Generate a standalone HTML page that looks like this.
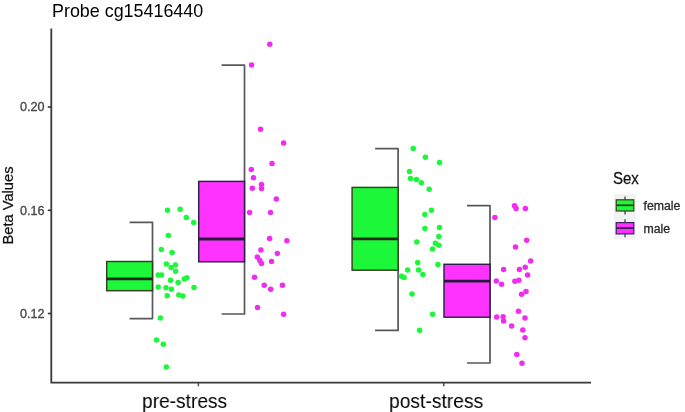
<!DOCTYPE html>
<html><head><meta charset="utf-8"><style>
html,body{margin:0;padding:0;background:#fff;}
body{width:685px;height:412px;overflow:hidden;position:relative;font-family:"Liberation Sans",sans-serif;}
.t{position:absolute;white-space:nowrap;line-height:1;will-change:transform;}
svg{will-change:transform;}
</style></head><body>
<svg width="685" height="412" viewBox="0 0 685 412" style="position:absolute;left:0;top:0">
<g font-family="Liberation Sans, sans-serif">
<text x="52" y="16.6" font-size="17.9" fill="#000">Probe cg15416440</text>
<text transform="translate(12.6,205.5) rotate(-90)" text-anchor="middle" font-size="14.7" fill="#111" stroke="#111" stroke-width="0.25">Beta Values</text>
<text x="44.4" y="111.3" text-anchor="end" font-size="12.6" fill="#484848" stroke="#484848" stroke-width="0.35">0.20</text>
<text x="44.4" y="214.7" text-anchor="end" font-size="12.6" fill="#484848" stroke="#484848" stroke-width="0.35">0.16</text>
<text x="44.4" y="317.9" text-anchor="end" font-size="12.6" fill="#484848" stroke="#484848" stroke-width="0.35">0.12</text>
<text transform="translate(613,184) scale(1,1.07)" font-size="15" fill="#111" stroke="#111" stroke-width="0.25">Sex</text>
<text x="643.5" y="209.7" font-size="12.3" fill="#2a2a2a" stroke="#2a2a2a" stroke-width="0.3">female</text>
<text x="643.5" y="232.5" font-size="12.3" fill="#2a2a2a" stroke="#2a2a2a" stroke-width="0.3">male</text>
</g>
<path d="M51.3,28.4 V382.7 H591" fill="none" stroke="#383838" stroke-width="1.8" stroke-linejoin="round"/>
<line x1="47.8" x2="51" y1="107.0" y2="107.0" stroke="#333" stroke-width="1.6"/>
<line x1="47.8" x2="51" y1="210.3" y2="210.3" stroke="#333" stroke-width="1.6"/>
<line x1="47.8" x2="51" y1="313.5" y2="313.5" stroke="#333" stroke-width="1.6"/>
<line x1="198.4" x2="198.4" y1="383" y2="386.3" stroke="#444" stroke-width="1.4"/>
<line x1="443.8" x2="443.8" y1="383" y2="386.3" stroke="#444" stroke-width="1.4"/>
<!-- legend -->
<rect x="614" y="194.2" width="21.7" height="45.3" fill="#f2f2f2"/>
<line x1="625" x2="625" y1="196.4" y2="214.6" stroke="#333" stroke-width="1.2"/>
<rect x="616.2" y="199.8" width="17.6" height="11.2" fill="#1cf73a" stroke="#3d3a22" stroke-width="1.2"/>
<line x1="616.2" x2="633.8" y1="205.3" y2="205.3" stroke="#2e2a1a" stroke-width="1.6"/>
<line x1="625" x2="625" y1="219.2" y2="237.3" stroke="#333" stroke-width="1.2"/>
<rect x="616.2" y="222.6" width="17.6" height="11.3" fill="#ff33ff" stroke="#3a2260" stroke-width="1.2"/>
<line x1="616.2" x2="633.8" y1="228.1" y2="228.1" stroke="#2c1c4a" stroke-width="1.6"/>
<path d="M129.6,222.3 H152.5 V318.6 H129.6" fill="none" stroke="#585858" stroke-width="1.7" stroke-linejoin="round" stroke-linecap="butt"/>
<rect x="106.7" y="261.5" width="45.8" height="29.2" fill="#1cf73a" stroke="#34401e" stroke-width="1.45"/>
<line x1="106.7" x2="152.5" y1="278.8" y2="278.8" stroke="#262a16" stroke-width="2.8"/>
<path d="M221.6,65.1 H244.5 V314.0 H221.6" fill="none" stroke="#585858" stroke-width="1.7" stroke-linejoin="round" stroke-linecap="butt"/>
<rect x="198.7" y="181.4" width="45.8" height="80.4" fill="#ff33ff" stroke="#2c1f48" stroke-width="1.45"/>
<line x1="198.7" x2="244.5" y1="239.0" y2="239.0" stroke="#241a3c" stroke-width="2.8"/>
<path d="M375.1,148.7 H398.1 V330.4 H375.1" fill="none" stroke="#585858" stroke-width="1.7" stroke-linejoin="round" stroke-linecap="butt"/>
<rect x="352.1" y="187.4" width="46.0" height="82.8" fill="#1cf73a" stroke="#34401e" stroke-width="1.45"/>
<line x1="352.1" x2="398.1" y1="238.9" y2="238.9" stroke="#262a16" stroke-width="2.8"/>
<path d="M467.0,205.6 H490.0 V363.0 H467.0" fill="none" stroke="#585858" stroke-width="1.7" stroke-linejoin="round" stroke-linecap="butt"/>
<rect x="444.0" y="264.3" width="46.0" height="52.9" fill="#ff33ff" stroke="#2c1f48" stroke-width="1.45"/>
<line x1="444.0" x2="490.0" y1="281.1" y2="281.1" stroke="#241a3c" stroke-width="2.8"/>
<circle cx="167.5" cy="210.2" r="2.75" fill="#1cf73a"/>
<circle cx="180.1" cy="209.3" r="2.75" fill="#1cf73a"/>
<circle cx="186.3" cy="217.4" r="2.75" fill="#1cf73a"/>
<circle cx="193.7" cy="222.5" r="2.75" fill="#1cf73a"/>
<circle cx="168.3" cy="235.6" r="2.75" fill="#1cf73a"/>
<circle cx="161.3" cy="249.5" r="2.75" fill="#1cf73a"/>
<circle cx="172.1" cy="252.6" r="2.75" fill="#1cf73a"/>
<circle cx="166.4" cy="264.1" r="2.75" fill="#1cf73a"/>
<circle cx="175.4" cy="265.0" r="2.75" fill="#1cf73a"/>
<circle cx="171.1" cy="267.5" r="2.75" fill="#1cf73a"/>
<circle cx="175.6" cy="271.3" r="2.75" fill="#1cf73a"/>
<circle cx="158.2" cy="275.1" r="2.75" fill="#1cf73a"/>
<circle cx="161.5" cy="275.1" r="2.75" fill="#1cf73a"/>
<circle cx="170.5" cy="280.3" r="2.75" fill="#1cf73a"/>
<circle cx="178.1" cy="282.4" r="2.75" fill="#1cf73a"/>
<circle cx="184.3" cy="278.9" r="2.75" fill="#1cf73a"/>
<circle cx="186.8" cy="277.7" r="2.75" fill="#1cf73a"/>
<circle cx="194.0" cy="287.5" r="2.75" fill="#1cf73a"/>
<circle cx="158.2" cy="287.1" r="2.75" fill="#1cf73a"/>
<circle cx="166.0" cy="287.7" r="2.75" fill="#1cf73a"/>
<circle cx="171.4" cy="289.2" r="2.75" fill="#1cf73a"/>
<circle cx="167.2" cy="295.8" r="2.75" fill="#1cf73a"/>
<circle cx="178.8" cy="295.1" r="2.75" fill="#1cf73a"/>
<circle cx="182.9" cy="296.0" r="2.75" fill="#1cf73a"/>
<circle cx="160.3" cy="318.0" r="2.75" fill="#1cf73a"/>
<circle cx="156.5" cy="340.1" r="2.75" fill="#1cf73a"/>
<circle cx="163.3" cy="344.2" r="2.75" fill="#1cf73a"/>
<circle cx="166.3" cy="367.1" r="2.75" fill="#1cf73a"/><circle cx="269.8" cy="44.2" r="2.75" fill="#f02cf0"/>
<circle cx="251.6" cy="65.1" r="2.75" fill="#f02cf0"/>
<circle cx="260.5" cy="129.3" r="2.75" fill="#f02cf0"/>
<circle cx="283.6" cy="143.0" r="2.75" fill="#f02cf0"/>
<circle cx="272.0" cy="163.6" r="2.75" fill="#f02cf0"/>
<circle cx="251.3" cy="169.5" r="2.75" fill="#f02cf0"/>
<circle cx="253.5" cy="177.7" r="2.75" fill="#f02cf0"/>
<circle cx="261.5" cy="184.4" r="2.75" fill="#f02cf0"/>
<circle cx="261.5" cy="188.6" r="2.75" fill="#f02cf0"/>
<circle cx="252.3" cy="188.3" r="2.75" fill="#f02cf0"/>
<circle cx="276.3" cy="199.0" r="2.75" fill="#f02cf0"/>
<circle cx="249.6" cy="212.5" r="2.75" fill="#f02cf0"/>
<circle cx="270.5" cy="212.5" r="2.75" fill="#f02cf0"/>
<circle cx="269.6" cy="238.5" r="2.75" fill="#f02cf0"/>
<circle cx="286.9" cy="240.7" r="2.75" fill="#f02cf0"/>
<circle cx="260.9" cy="250.1" r="2.75" fill="#f02cf0"/>
<circle cx="277.3" cy="253.4" r="2.75" fill="#f02cf0"/>
<circle cx="257.3" cy="257.0" r="2.75" fill="#f02cf0"/>
<circle cx="259.8" cy="260.5" r="2.75" fill="#f02cf0"/>
<circle cx="261.5" cy="263.5" r="2.75" fill="#f02cf0"/>
<circle cx="271.5" cy="261.4" r="2.75" fill="#f02cf0"/>
<circle cx="254.5" cy="277.2" r="2.75" fill="#f02cf0"/>
<circle cx="264.2" cy="285.2" r="2.75" fill="#f02cf0"/>
<circle cx="270.7" cy="289.2" r="2.75" fill="#f02cf0"/>
<circle cx="282.4" cy="285.2" r="2.75" fill="#f02cf0"/>
<circle cx="257.5" cy="307.5" r="2.75" fill="#f02cf0"/>
<circle cx="283.6" cy="314.3" r="2.75" fill="#f02cf0"/><circle cx="413.2" cy="148.5" r="2.75" fill="#1cf73a"/>
<circle cx="425.4" cy="157.3" r="2.75" fill="#1cf73a"/>
<circle cx="439.5" cy="162.5" r="2.75" fill="#1cf73a"/>
<circle cx="409.5" cy="171.6" r="2.75" fill="#1cf73a"/>
<circle cx="410.5" cy="178.4" r="2.75" fill="#1cf73a"/>
<circle cx="416.4" cy="179.4" r="2.75" fill="#1cf73a"/>
<circle cx="421.3" cy="182.8" r="2.75" fill="#1cf73a"/>
<circle cx="429.2" cy="189.2" r="2.75" fill="#1cf73a"/>
<circle cx="431.4" cy="210.2" r="2.75" fill="#1cf73a"/>
<circle cx="424.9" cy="214.5" r="2.75" fill="#1cf73a"/>
<circle cx="424.9" cy="228.5" r="2.75" fill="#1cf73a"/>
<circle cx="439.5" cy="227.5" r="2.75" fill="#1cf73a"/>
<circle cx="438.8" cy="236.4" r="2.75" fill="#1cf73a"/>
<circle cx="416.8" cy="242.0" r="2.75" fill="#1cf73a"/>
<circle cx="435.4" cy="243.3" r="2.75" fill="#1cf73a"/>
<circle cx="438.8" cy="245.3" r="2.75" fill="#1cf73a"/>
<circle cx="432.5" cy="249.1" r="2.75" fill="#1cf73a"/>
<circle cx="417.7" cy="262.4" r="2.75" fill="#1cf73a"/>
<circle cx="437.9" cy="264.6" r="2.75" fill="#1cf73a"/>
<circle cx="407.7" cy="270.0" r="2.75" fill="#1cf73a"/>
<circle cx="418.6" cy="270.0" r="2.75" fill="#1cf73a"/>
<circle cx="422.9" cy="274.4" r="2.75" fill="#1cf73a"/>
<circle cx="401.6" cy="276.2" r="2.75" fill="#1cf73a"/>
<circle cx="404.1" cy="277.4" r="2.75" fill="#1cf73a"/>
<circle cx="412.0" cy="294.0" r="2.75" fill="#1cf73a"/>
<circle cx="432.6" cy="314.2" r="2.75" fill="#1cf73a"/>
<circle cx="419.6" cy="330.2" r="2.75" fill="#1cf73a"/><circle cx="494.9" cy="217.5" r="2.75" fill="#f02cf0"/>
<circle cx="514.5" cy="205.7" r="2.75" fill="#f02cf0"/>
<circle cx="516.1" cy="208.6" r="2.75" fill="#f02cf0"/>
<circle cx="525.4" cy="208.6" r="2.75" fill="#f02cf0"/>
<circle cx="526.7" cy="240.3" r="2.75" fill="#f02cf0"/>
<circle cx="515.5" cy="246.9" r="2.75" fill="#f02cf0"/>
<circle cx="530.7" cy="261.1" r="2.75" fill="#f02cf0"/>
<circle cx="503.6" cy="269.5" r="2.75" fill="#f02cf0"/>
<circle cx="519.4" cy="269.5" r="2.75" fill="#f02cf0"/>
<circle cx="525.2" cy="267.2" r="2.75" fill="#f02cf0"/>
<circle cx="527.6" cy="275.0" r="2.75" fill="#f02cf0"/>
<circle cx="496.3" cy="281.0" r="2.75" fill="#f02cf0"/>
<circle cx="501.5" cy="284.3" r="2.75" fill="#f02cf0"/>
<circle cx="514.9" cy="281.3" r="2.75" fill="#f02cf0"/>
<circle cx="518.9" cy="280.2" r="2.75" fill="#f02cf0"/>
<circle cx="521.6" cy="294.3" r="2.75" fill="#f02cf0"/>
<circle cx="526.0" cy="291.6" r="2.75" fill="#f02cf0"/>
<circle cx="518.5" cy="311.2" r="2.75" fill="#f02cf0"/>
<circle cx="496.7" cy="317.0" r="2.75" fill="#f02cf0"/>
<circle cx="503.1" cy="316.8" r="2.75" fill="#f02cf0"/>
<circle cx="503.6" cy="321.0" r="2.75" fill="#f02cf0"/>
<circle cx="525.0" cy="318.1" r="2.75" fill="#f02cf0"/>
<circle cx="511.6" cy="325.9" r="2.75" fill="#f02cf0"/>
<circle cx="522.8" cy="329.9" r="2.75" fill="#f02cf0"/>
<circle cx="525.0" cy="337.8" r="2.75" fill="#f02cf0"/>
<circle cx="516.8" cy="354.4" r="2.75" fill="#f02cf0"/>
<circle cx="522.0" cy="363.2" r="2.75" fill="#f02cf0"/>
</svg>
<div class="t" style="left:142px;top:390px;font-size:21px;color:#000;transform:scaleX(0.912);transform-origin:0 0">pre-stress</div>
<div class="t" style="left:389px;top:390px;font-size:21px;color:#000;transform:scaleX(0.917);transform-origin:0 0">post-stress</div>
</body></html>
